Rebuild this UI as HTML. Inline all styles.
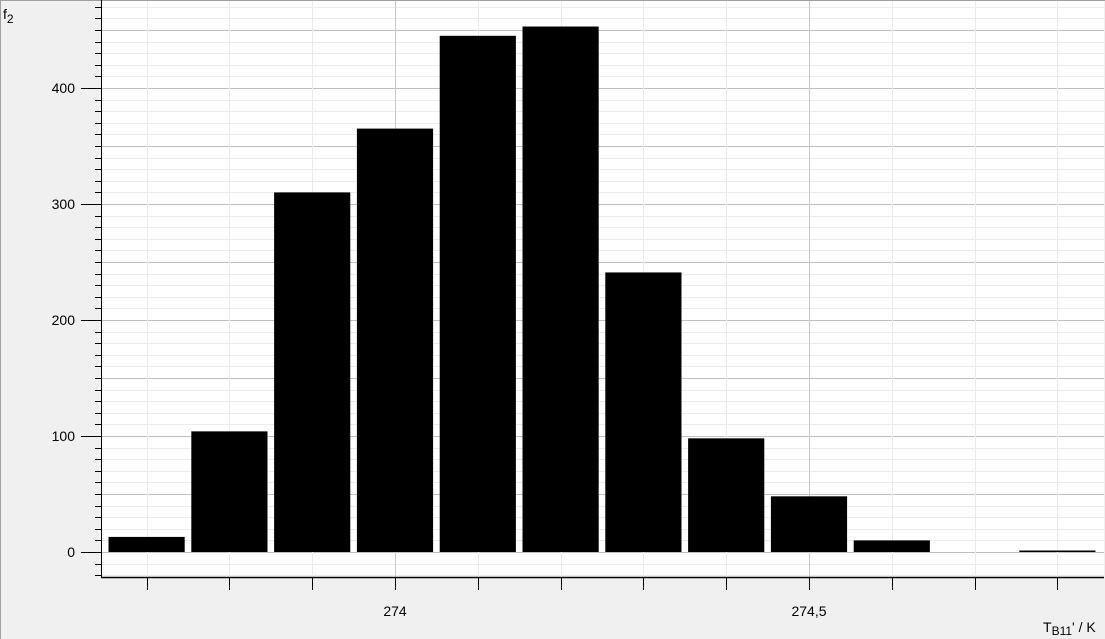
<!DOCTYPE html>
<html><head><meta charset="utf-8"><style>
html,body{margin:0;padding:0;background:#f0f0f0;}
svg{display:block;font-family:"Liberation Sans",sans-serif;}
</style></head><body>
<svg id="chart" width="1105" height="639" xmlns="http://www.w3.org/2000/svg">
<rect x="0" y="0" width="1105" height="639" fill="#f0f0f0"/>
<line x1="0.5" y1="0" x2="0.5" y2="639" stroke="#a0a0a0"/>
<line x1="0" y1="0.5" x2="1105" y2="0.5" stroke="#a0a0a0"/>
<rect x="101" y="1" width="1003" height="576" fill="#fff"/>
<g id="grid"></g>
<g id="bars"></g>
<g id="axes"></g>
<text x="3" y="19" font-size="14">f<tspan font-size="12" dy="4">2</tspan></text>
<text x="1043" y="632" font-size="14">T<tspan font-size="12" dy="3">B11</tspan><tspan dy="-3">' / K</tspan></text>
</svg>
<script>
const binCenters = [273.7,273.8,273.9,274.0,274.1,274.2,274.3,274.4,274.5,274.6,274.7,274.8];
const counts = [13,104,310,365,445,453,241,98,48,10,0,1];
const yTickLabels = ["0","100","200","300","400"];
const xTickLabels = ["274","274,5"];

const NS="http://www.w3.org/2000/svg";
const X0=101,X1=1104,YT=1,YB=577;
function xs(v){return 395+(v-274)*828;}
function ys(v){return 552-v*1.16;}
function mk(tag,attrs,parent){const e=document.createElementNS(NS,tag);for(const k in attrs)e.setAttribute(k,attrs[k]);parent.appendChild(e);return e;}
const grid=document.getElementById('grid'),bars=document.getElementById('bars'),axes=document.getElementById('axes');

for(let v=-20;v<=470;v+=10){
  const y=Math.round(ys(v))+0.5;
  const major=v%50===0;
  const g=mk('line',{x1:X0,x2:X1,y1:y,y2:y,stroke:major?'#c0c0c0':'#ebebeb'},grid);
  
  
  const t=mk('line',{x1:v%100===0?81:95,x2:X0,y1:y,y2:y,stroke:'#000'},axes);
  
  
}
yTickLabels.forEach(s=>{
  const v=parseFloat(s);
  const t=mk('text',{x:75,y:ys(v)+5,'text-anchor':'end','font-size':'14'},axes);
  t.textContent=s;
  
  
});
for(let i=0;i<=11;i++){
  const v=273.7+i*0.1;
  const x=Math.round(xs(v))+0.5;
  const major=Math.abs(v*2-Math.round(v*2))<1e-6;
  const g=mk('line',{x1:x,x2:x,y1:YT,y2:YB,stroke:major?'#c8c8c8':'#ebebeb'},grid);
  
  
  const t=mk('line',{x1:x,x2:x,y1:YB,y2:590,stroke:'#000'},axes);
  
  
}
xTickLabels.forEach(s=>{
  const v=parseFloat(s.replace(',','.'));
  const t=mk('text',{x:xs(v),y:616,'text-anchor':'middle','font-size':'14'},axes);
  t.textContent=s;
  
  
});
const bw=0.092*828;
binCenters.forEach((c,i)=>{
  const top=ys(counts[i]);
  const h=Math.max(ys(0)-top,counts[i]>0?1.5:0);
  if(h<=0)return;
  const r=mk('rect',{x:xs(c)-bw/2,y:ys(0)-h,width:bw,height:h,fill:'#000'},bars);
  
  
});
const ya=mk('line',{x1:X0+0.5,x2:X0+0.5,y1:0,y2:YB+1,stroke:'#000'},axes);


const xa=mk('line',{x1:X0,x2:X1,y1:YB+0.5,y2:YB+0.5,stroke:'#000',"stroke-width":1.5},axes);


</script>
</body></html>
